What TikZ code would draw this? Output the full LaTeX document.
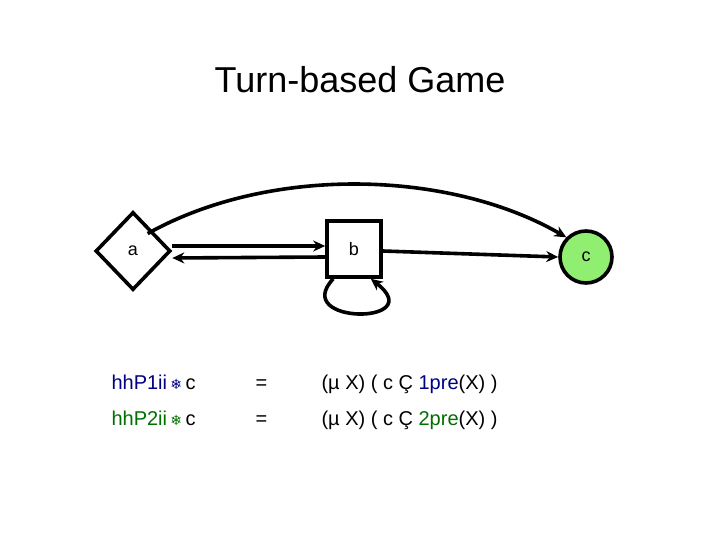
\documentclass[tikz,border=0pt]{standalone}
\usepackage{fontspec}
\setmainfont{Liberation Sans}
\newfontfamily\symf{DejaVu Sans}
\usetikzlibrary{shapes.geometric,arrows.meta}
\definecolor{dblue}{RGB}{0,0,128}
\definecolor{dgreen}{RGB}{0,110,0}
\definecolor{lgreen}{RGB}{144,238,112}
\begin{document}
\begin{tikzpicture}[x=1pt,y=-1pt,
  st/.style={draw,line width=3.6pt,inner sep=0pt,font=\fontsize{18}{18}\selectfont},
  ed/.style={line width=3.6pt,-{Stealth[length=12pt,width=11pt]}},
  txt/.style={anchor=base west,font=\fontsize{20}{20}\selectfont}]
\useasboundingbox (0,0) rectangle (720,540);
\node[font=\fontsize{36}{36}\selectfont] (t) at (360,80) {Turn-based Game};
\node[st,diamond,minimum width=75pt,minimum height=78pt] (a) at (133,251) {a};
\node[st,rectangle,minimum width=54pt,minimum height=56pt] (b) at (354,249) {b};
\node[st,circle,fill=lgreen,minimum size=52pt] (c) at (586,257) {c};
\draw[ed] ([yshift=5pt]a.east) -- ([yshift=3pt]b.west);
\draw[ed] ([yshift=-8pt]b.west) -- ([yshift=-7pt]a.east);
\draw[ed] ([yshift=-2pt]b.east) -- (c.west);
\coordinate (a1) at ([xshift=-5pt,yshift=-3pt]a.north east);
\draw[ed] (a1) .. controls (270,165) and (450,170) .. (c.north west);
\coordinate (b1) at ([xshift=8pt]b.south west);
\draw[ed] (b1) .. controls (290,325) and (430,325) .. ([xshift=-12pt]b.south east);
\node[txt,text=dblue] (r1) at (108,389) {hhP1ii\,{\symf\fontsize{14}{14}\selectfont ❄}\,\textcolor{black}{c}};
\node[txt] (e1) at (252,389) {=};
\node[txt] (f1) at (318,389) {(µ X) ( c Ç \textcolor{dblue}{1pre}(X) )};
\node[txt,text=dgreen] (r2) at (108,425) {hhP2ii\,{\symf\fontsize{14}{14}\selectfont ❄}\,\textcolor{black}{c}};
\node[txt] (e2) at (252,425) {=};
\node[txt] (f2) at (318,425) {(µ X) ( c Ç \textcolor{dgreen}{2pre}(X) )};
\end{tikzpicture}
\end{document}
